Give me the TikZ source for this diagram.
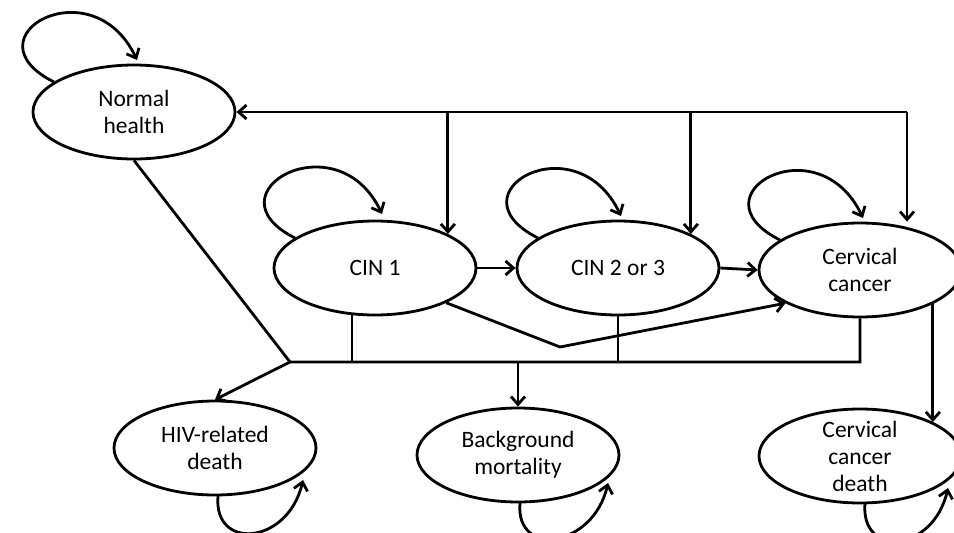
\documentclass[tikz,border=0pt]{standalone}
\usepackage{fontspec}
\setmainfont{Carlito}
\usetikzlibrary{shapes.geometric,arrows.meta,calc}
\begin{document}
\begin{tikzpicture}[x=1pt,y=-1pt,
  st/.style={ellipse,draw,line width=2.8pt,minimum width=202pt,minimum height=94pt,inner sep=0pt,align=center,font=\fontsize{23.5}{27}\selectfont},
  ln/.style={line width=2.8pt},
  ar/.style={ln,-{Straight Barb[length=8pt,width=14pt]}},
]
\clip (0,0) rectangle (954,533);
\fill[white] (0,0) rectangle (954,533);
% states
\node[st] (nh) at (134,112) {Normal\\health};
\node[st] (c1) at (375,268) {CIN 1};
\node[st] (c2) at (618,268) {CIN 2 or 3};
\node[st] (cc) at (860,270) {Cervical\\cancer};
\node[st] (hd) at (215,448) {HIV-related\\death};
\node[st] (bm) at (518,455) {Background\\mortality};
\node[st,inner ysep=-9pt] (cd) at (860,456) {Cervical\\cancer\\death};
% self loops (top)
\draw[ar] ($(nh)+(-80,-30)$) .. controls +(-90,-45) and +(-45,-95) .. ($(nh)+(3,-52)$);
\draw[ar] ($(c1)+(-80,-30)$) .. controls +(-90,-45) and +(-45,-95) .. ($(c1)+(7,-54)$);
\draw[ar] ($(c2)+(-80,-30)$) .. controls +(-90,-45) and +(-45,-95) .. ($(c2)+(3,-52)$);
\draw[ar] ($(cc)+(-80,-30)$) .. controls +(-90,-45) and +(-45,-95) .. ($(cc)+(3,-52)$);
% self loops (bottom)
\draw[ar] ($(hd)+(3,48)$) .. controls +(-5,55) and +(-15,65) .. ($(hd)+(88,32)$);
\draw[ar] ($(bm)+(2,48)$) .. controls +(-5,55) and +(-15,65) .. ($(bm)+(90,28)$);
\draw[ar] ($(cd)+(5,47)$) .. controls +(-5,55) and +(-15,65) .. ($(cd)+(88,32)$);
% top bus back to normal health
\coordinate (t1) at (c1.25 |- nh.east);
\coordinate (t2) at (c2.25 |- nh.east);
\coordinate (t3) at (907,112);
\draw[ar] (t3) -- (nh.east);
\draw[ar] (t1) -- (c1.25);
\draw[ar] (t2) -- (c2.25);
\draw[ar] (t3) -- (t3 |- cc.north);
% progression
\draw[ar] (c1.east) -- (c2.west);
\draw[ar] (c2.east) -- (cc.west);
\coordinate (kink) at (560,347);
\draw[ar] (c1.-26) -- (kink) -- (cc.204);
% bottom bus to deaths
\coordinate (bl) at (290,362);
\coordinate (br) at (cc.south |- bl);
\draw[ln] (nh.south) -- (bl) -- (br) -- (cc.south);
\draw[ln] (c1.-116) -- (c1.-116 |- bl);
\draw[ln] (c2.south) -- (c2.south |- bl);
\draw[ar] (bl) -- (hd.north);
\draw[ar] (bm.north |- bl) -- (bm.north);
\draw[ar] (cc.-25) -- (cd.25);
\end{tikzpicture}
\end{document}
